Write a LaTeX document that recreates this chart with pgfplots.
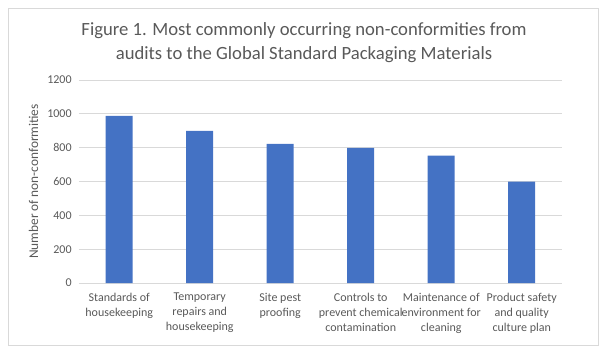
\documentclass[border=0pt]{standalone}
\usepackage{pgfplots}
\pgfplotsset{compat=1.18}
\usepackage{fontspec}
\setmainfont{Carlito}
\definecolor{barblue}{HTML}{4472C4}
\definecolor{gridgray}{HTML}{D9D9D9}
\definecolor{txtgray}{HTML}{595959}
\begin{document}
\begin{tikzpicture}[x=0.75pt,y=0.75pt]
\useasboundingbox (0,0) rectangle (608,355);
\draw[gridgray, line width=0.75pt] (8,10) rectangle (598,347);
\node[txtgray, align=center, font=\fontsize{14}{18}\selectfont] at (304,312) {Figure 1. Most commonly occurring non-conformities from\\audits to the Global Standard Packaging Materials};
\begin{axis}[
  at={(59.25pt,54pt)}, anchor=south west,
  scale only axis, width=362.25pt, height=152.25pt,
  xmin=-0.5, xmax=5.5, ymin=0, ymax=1200,
  ytick={0,200,...,1200},
  xtick={0,...,5},
  xticklabels={{Standards of\\housekeeping},{Temporary\\repairs and\\housekeeping},{Site pest\\proofing},{Controls to\\prevent chemical\\contamination},{Maintenance of\\environment for\\cleaning},{Product safety\\and quality\\culture plan}},
  xticklabel style={align=center, font=\fontsize{9}{11.3}\selectfont, text=txtgray, yshift=-4pt},
  yticklabel style={font=\fontsize{9}{11}\selectfont, text=txtgray, xshift=-2pt},
  /pgf/number format/assume math mode=true,
  /pgf/number format/1000 sep={},
  ymajorgrids, grid style={gridgray, line width=0.75pt},
  axis x line*=bottom,
  axis y line*=left,
  x axis line style={gridgray, line width=0.75pt, -},
  y axis line style={draw=none},
  ytick style={draw=none}, xtick style={draw=none},
  ylabel={Number of non-conformities},
  ylabel style={font=\fontsize{10}{12}\selectfont, text=txtgray},
  clip=false,
]
\addplot[ybar, bar width=20.25pt, fill=barblue, draw=none] coordinates {
(0,988) (1,899) (2,822) (3,799) (4,753) (5,599)};
\end{axis}
\end{tikzpicture}
\end{document}
